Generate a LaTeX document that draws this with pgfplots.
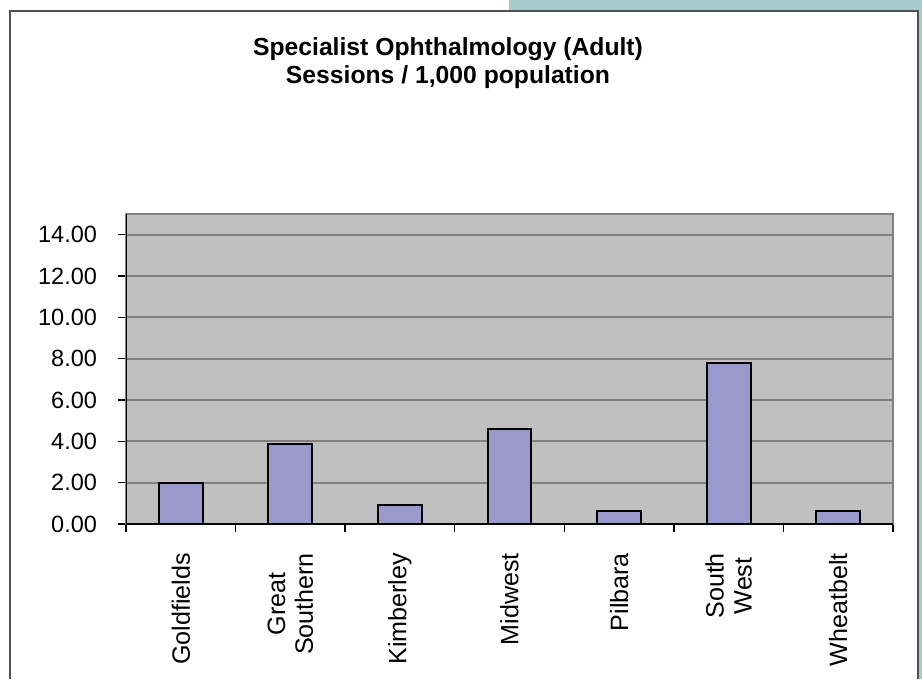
\documentclass[border=0pt]{standalone}
\usepackage{pgfplots}
\pgfplotsset{compat=1.18}
\usepackage{fontspec}
\setmainfont{Liberation Sans}
\definecolor{plotgray}{RGB}{192,192,192}
\definecolor{gridgray}{RGB}{128,128,128}
\definecolor{barfill}{RGB}{153,153,204}
\definecolor{tealband}{RGB}{166,205,204}
\definecolor{framegray}{RGB}{80,80,80}

\begin{document}
\begin{tikzpicture}[x=1bp,y=1bp]
\path[use as bounding box] (0,0) rectangle (461,339.5);
% slide decoration round the chart
\fill[tealband] (254.5,334) rectangle (461,339.5);
\fill[tealband] (459.5,0) rectangle (461,339.5);
\draw[framegray, line width=0.8bp] (5,0) -- (5,334) -- (459,334) -- (459,0);
\node[font=\bfseries\fontsize{12.4}{14}\selectfont, align=center]
  at (224,308) {Specialist Ophthalmology (Adult)\\Sessions / 1,000 population};

\begin{axis}[
  at={(63bp,77.5bp)}, anchor=south west,
  scale only axis, width=383.5bp, height=155bp,
  xmin=-0.5, xmax=6.5, ymin=0, ymax=15,
  axis background/.style={fill=plotgray},
  axis line style={draw=gridgray, line width=1bp},
  ytick={0,2,...,14},
  ymajorgrids,
  major grid style={draw=gridgray, line width=1bp},
  xtick={-0.5,0.5,...,6.5},
  xticklabels={},
  extra x ticks={0,1,2,3,4,5,6},
  extra x tick labels={Goldfields,Great\\Southern,Kimberley,Midwest,Pilbara,South\\West,Wheatbelt},
  extra x tick style={major tick length=0pt, grid=none,
    xticklabel style={yshift=-11bp, rotate=90, anchor=east, align=center,
      font=\fontsize{12.6}{14}\selectfont}},
  xtick pos=bottom, ytick pos=left,
  tick align=outside,
  major tick length=4bp,
  tick style={draw=black, line width=0.75bp},
  yticklabel style={xshift=-7bp, font=\fontsize{11.8}{14}\selectfont},
  /pgf/number format/.cd, fixed, zerofill, precision=2, assume math mode=true,
]
\addplot[ybar, bar width=0.4, fill=barfill, draw=black, line width=1bp]
  coordinates {(0,1.97) (1,3.85) (2,0.93) (3,4.6) (4,0.64) (5,7.81) (6,0.61)};
\draw[black, line width=1bp] (rel axis cs:0,1) -- (rel axis cs:0,0) -- (rel axis cs:1,0);
\end{axis}
\end{tikzpicture}
\end{document}
